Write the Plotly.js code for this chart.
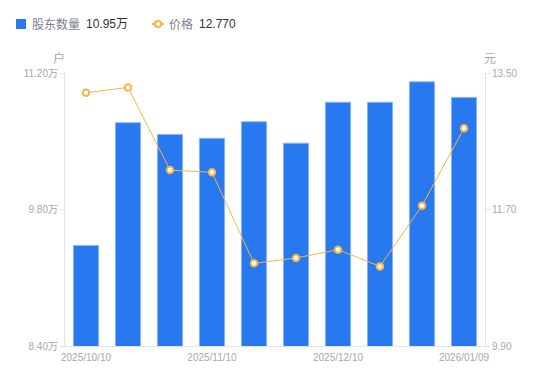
<!DOCTYPE html>
<html>
<head>
<meta charset="utf-8">
<script src="https://cdn.plot.ly/plotly-3.0.1.min.js"></script>
<style>html,body{margin:0;padding:0;background:#fff;}#chart{width:550px;height:381px;}</style>
</head>
<body>
<div id="chart"></div>
<script>
const dates = ["2025/10/10","2025/10/20","2025/10/31","2025/11/10","2025/11/20","2025/11/28","2025/12/10","2025/12/19","2025/12/31","2026/01/09"];
const holders = [9.43, 10.69, 10.57, 10.53, 10.70, 10.48, 10.90, 10.90, 11.11, 10.95]; // 万户
const prices = [13.24, 13.31, 12.22, 12.19, 10.99, 11.06, 11.17, 10.95, 11.75, 12.77];
const xTickLabels = ["2025/10/10","2025/11/10","2025/12/10","2026/01/09"];
const leftTicks = [8.4, 9.8, 11.2];
const leftTickText = ["8.40万","9.80万","11.20万"];
const rightTicks = [9.9, 11.7, 13.5];
const rightTickText = ["9.90","11.70","13.50"];

const FONT = "Liberation Sans, Arial, 'Noto Sans CJK SC', sans-serif";
const CJK = "'Noto Sans CJK SC', sans-serif";
const tickColor = "#a4a7b5";
const axisLine = "#e3e3e6";

const traces = [
  {
    type: "bar", x: dates, y: holders, name: "股东数量",
    marker: {color: "#2878f0", line: {color: "#8ab4f7", width: 1}},
    width: 0.6, yaxis: "y", showlegend: false, hoverinfo: "skip"
  },
  {
    type: "scatter", mode: "lines+markers", x: dates, y: prices, name: "价格",
    line: {color: "#f6b445", width: 1},
    marker: {symbol: "circle", size: 6.5, color: "#ffffff", line: {color: "#f6b445", width: 2}},
    yaxis: "y2", showlegend: false, hoverinfo: "skip"
  }
];

const P = (px) => (px - 65) / 420;
const Q = (py) => 1 + (73 - py) / 273;

const layout = {
  width: 550, height: 381,
  margin: {l: 65, r: 65, t: 73, b: 35},
  paper_bgcolor: "#fff", plot_bgcolor: "#fff",
  font: {family: FONT, color: tickColor, size: 10},
  showlegend: false,
  xaxis: {
    type: "category", range: [-0.5, 9.5],
    tickmode: "array", tickvals: xTickLabels, ticktext: xTickLabels,
    showline: true, linecolor: axisLine, linewidth: 1,
    ticks: "", showgrid: false, zeroline: false, ticklabelstandoff: 2,
    tickfont: {size: 10, color: tickColor, family: FONT}
  },
  yaxis: {
    range: [8.4, 11.2], tickmode: "array", tickvals: leftTicks, ticktext: leftTickText,
    showline: true, linecolor: axisLine, linewidth: 1,
    ticks: "outside", ticklen: 4, tickcolor: axisLine,
    showgrid: false, zeroline: false,
    tickfont: {size: 10, color: tickColor, family: FONT}
  },
  yaxis2: {
    overlaying: "y", side: "right",
    range: [9.9, 13.5], tickmode: "array", tickvals: rightTicks, ticktext: rightTickText,
    showline: true, linecolor: axisLine, linewidth: 1,
    ticks: "outside", ticklen: 4, tickcolor: axisLine,
    showgrid: false, zeroline: false,
    tickfont: {size: 10, color: tickColor, family: FONT}
  },
  shapes: [
    {type: "rect", xref: "paper", yref: "paper",
     x0: P(16), x1: P(26), y0: Q(29), y1: Q(19),
     fillcolor: "#2878f0", line: {width: 0}, layer: "above"},
    {type: "line", xref: "paper", yref: "paper",
     x0: P(152), x1: P(164), y0: Q(24), y1: Q(24),
     line: {color: "#f6b445", width: 2}},
    {type: "circle", xref: "paper", yref: "paper",
     x0: P(155), x1: P(161), y0: Q(27), y1: Q(21),
     fillcolor: "#fff", line: {color: "#f6b445", width: 2}}
  ],
  annotations: [
    {xref: "paper", yref: "paper", x: P(30), y: Q(24), xanchor: "left", yanchor: "middle",
     text: "股东数量", showarrow: false, font: {size: 12, color: "#7c7f8c", family: CJK}},
    {xref: "paper", yref: "paper", x: P(84), y: Q(24), xanchor: "left", yanchor: "middle",
     text: "10.95万", showarrow: false, font: {size: 12, color: "#333", family: FONT}},
    {xref: "paper", yref: "paper", x: P(167), y: Q(24), xanchor: "left", yanchor: "middle",
     text: "价格", showarrow: false, font: {size: 12, color: "#7c7f8c", family: CJK}},
    {xref: "paper", yref: "paper", x: P(197), y: Q(24), xanchor: "left", yanchor: "middle",
     text: "12.770", showarrow: false, font: {size: 12, color: "#333", family: FONT}},
    {xref: "paper", yref: "paper", x: P(59), y: Q(57), xanchor: "center", yanchor: "middle",
     text: "户", showarrow: false, font: {size: 12, color: tickColor, family: CJK}},
    {xref: "paper", yref: "paper", x: P(490), y: Q(57), xanchor: "center", yanchor: "middle",
     text: "元", showarrow: false, font: {size: 12, color: tickColor, family: CJK}}
  ]
};

Plotly.newPlot("chart", traces, layout, {staticPlot: true, displayModeBar: false});
</script>
</body>
</html>
